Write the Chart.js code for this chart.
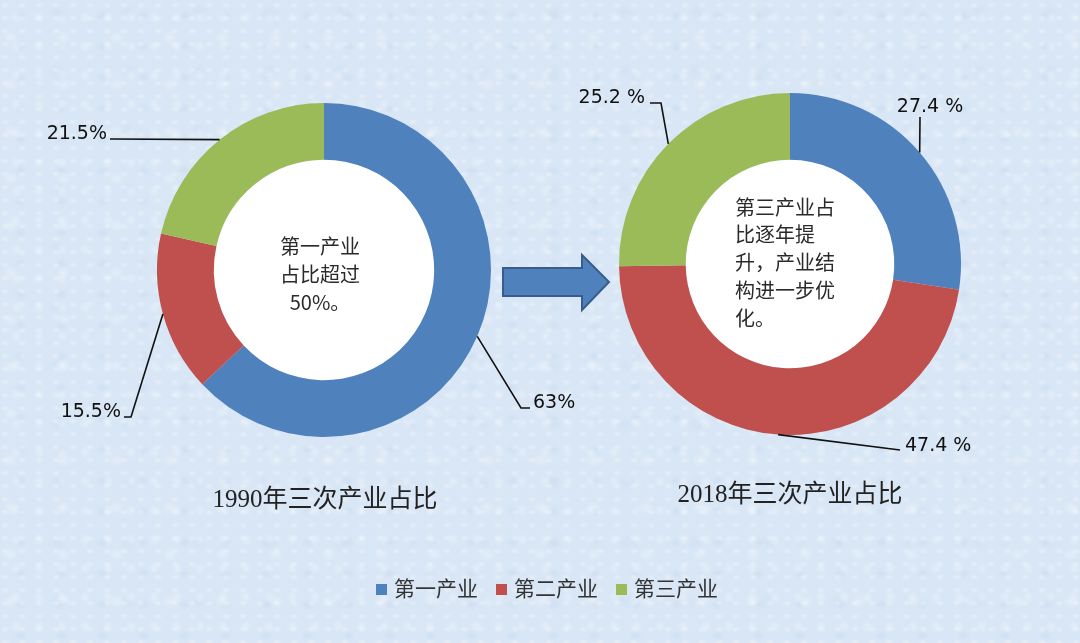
<!DOCTYPE html>
<html>
<head>
<meta charset="utf-8">
<script src="https://cdn.jsdelivr.net/npm/chart.js@4"></script>
<style>
  html, body { margin: 0; padding: 0; }
  body {
    width: 1080px;
    height: 643px;
    position: relative;
    overflow: hidden;
    background-color: #d8e6f5;
    background-image:
      radial-gradient(ellipse at 30% 40%, rgba(255,255,255,0.35) 0, rgba(255,255,255,0) 5px),
      radial-gradient(ellipse at 70% 60%, rgba(255,255,255,0.3) 0, rgba(255,255,255,0) 6px),
      radial-gradient(ellipse at 50% 50%, rgba(185,208,235,0.25) 0, rgba(185,208,235,0) 7px),
      radial-gradient(ellipse at 20% 80%, rgba(255,255,255,0.3) 0, rgba(255,255,255,0) 8px),
      radial-gradient(ellipse at 80% 20%, rgba(200,218,240,0.3) 0, rgba(200,218,240,0) 9px);
    background-size: 17px 13px, 23px 29px, 41px 31px, 53px 47px, 71px 59px;
  }
  canvas { position: absolute; left: 0; top: 0; }
  .title {
    position: absolute;
    font-family: "Liberation Serif", "Noto Sans CJK SC", serif;
    font-size: 25px;
    color: #222;
    white-space: nowrap;
    transform: translateX(-50%);
  }
  #legend {
    position: absolute;
    left: 0; width: 1080px;
    top: 572px;
    text-align: center;
    font-family: "Noto Sans CJK SC", sans-serif;
    font-size: 21px;
    color: #333;
    padding-left: 14px;
    box-sizing: border-box;
  }
  #legend span.item { margin: 0 9px; }
  #legend span.box {
    display: inline-block;
    width: 11px; height: 11px;
    margin-right: 7px;
    vertical-align: 1px;
  }
</style>
</head>
<body>
<canvas id="chart1990" width="1080" height="643"></canvas>
<canvas id="chart2018" width="1080" height="643"></canvas>
<div class="title" style="left:325px; top:478px;">1990年三次产业占比</div>
<div class="title" style="left:790px; top:473px;">2018年三次产业占比</div>
<div id="legend"></div>
<script>
// data
const categories = ["第一产业", "第二产业", "第三产业"];
const values1990 = [63, 15.5, 21.5];
const values2018 = [27.4, 47.4, 25.2];
const labels1990 = ["63%", "15.5%", "21.5%"];
const labels2018 = ["27.4 %", "47.4 %", "25.2 %"];
const note1990 = ["第一产业", "占比超过", "50%。"];
const note2018 = ["第三产业占", "比逐年提", "升，产业结", "构进一步优", "化。"];
const colors = ["#4f81bd", "#c0504d", "#9bbb59"];

// leader line layout, offsets from the doughnut centre
const leaders1990 = [
  { pts: [[197, 138], [206, 138]], text: [209, 138], align: "left" },
  { pts: [[-193, 147], [-200, 147]], text: [-203, 147], align: "right" },
  { pts: [[-214, -131]], text: [-217, -131], align: "right" },
];
const leaders2018 = [
  { pts: [[130, -147]], text: [140, -152], align: "center" },
  { pts: [[110, 186]], text: [115, 187], align: "left" },
  { pts: [[-129, -161], [-140, -161]], text: [-145, -161], align: "right" },
];

// white hole in the middle of the ring
const holePlugin = {
  id: "hole",
  beforeDatasetsDraw(chart) {
    const arc = chart.getDatasetMeta(0).data[0];
    const { x, y, innerRadius } = arc.getProps(["x", "y", "innerRadius"], true);
    const ctx = chart.ctx;
    ctx.save();
    ctx.fillStyle = "#ffffff";
    ctx.beginPath();
    ctx.arc(x, y, innerRadius, 0, Math.PI * 2);
    ctx.fill();
    ctx.restore();
  },
};

// leader lines + percentage labels, and the note in the middle
const leaderPlugin = {
  id: "leaders",
  afterDatasetsDraw(chart, args, opts) {
    const ctx = chart.ctx;
    const meta = chart.getDatasetMeta(0);
    ctx.save();
    meta.data.forEach((arc, i) => {
      const p = arc.getProps(["x", "y", "startAngle", "endAngle", "outerRadius"], true);
      const mid = (p.startAngle + p.endAngle) / 2;
      const lay = opts.layout[i];
      ctx.strokeStyle = "#111";
      ctx.lineWidth = 1.6;
      ctx.beginPath();
      ctx.moveTo(p.x + Math.cos(mid) * p.outerRadius, p.y + Math.sin(mid) * p.outerRadius);
      lay.pts.forEach((pt) => ctx.lineTo(p.x + pt[0], p.y + pt[1]));
      ctx.stroke();
      ctx.fillStyle = "#111";
      ctx.font = '19px "DejaVu Sans", sans-serif';
      ctx.textAlign = lay.align;
      ctx.textBaseline = "alphabetic";
      ctx.fillText(opts.labels[i], p.x + lay.text[0], p.y + lay.text[1]);
    });

    // note text
    const c = meta.data[0].getProps(["x", "y"], true);
    ctx.fillStyle = "#2a2a2a";
    ctx.font = '20px "Noto Sans CJK SC", sans-serif';
    ctx.textAlign = opts.noteAlign;
    ctx.textBaseline = "middle";
    opts.note.forEach((line, i) => {
      ctx.fillText(line, c.x + opts.noteX, c.y + opts.noteY + i * opts.noteGap);
    });
    ctx.restore();
  },
};

// block arrow between the two charts
const arrowPlugin = {
  id: "arrow",
  afterDraw(chart) {
    const ctx = chart.ctx;
    ctx.save();
    ctx.fillStyle = "#4f81bd";
    ctx.strokeStyle = "#385d8a";
    ctx.lineWidth = 2;
    ctx.beginPath();
    ctx.moveTo(503, 268);
    ctx.lineTo(582, 268);
    ctx.lineTo(582, 255);
    ctx.lineTo(609, 282);
    ctx.lineTo(582, 310);
    ctx.lineTo(582, 296);
    ctx.lineTo(503, 296);
    ctx.closePath();
    ctx.fill();
    ctx.stroke();
    ctx.restore();
  },
};

const makeChart = (id, values, cutout, padding, pluginOpts, extra) => {
  return new Chart(document.getElementById(id), {
    type: "doughnut",
    data: {
      labels: categories,
      datasets: [
        {
          data: values,
          backgroundColor: colors,
          borderWidth: 0,
        },
      ],
    },
    options: {
      responsive: false,
      animation: false,
      cutout: cutout,
      layout: { padding: padding },
      plugins: {
        legend: { display: false },
        tooltip: { enabled: false },
        leaders: pluginOpts,
      },
    },
    plugins: [holePlugin, leaderPlugin].concat(extra),
  });
};

makeChart(
  "chart1990",
  values1990,
  "66%",
  { left: 157, right: 589, top: 103, bottom: 206 },
  { layout: leaders1990, labels: labels1990, note: note1990, noteAlign: "center", noteX: -4, noteY: -24, noteGap: 28 },
  [arrowPlugin]
);

makeChart(
  "chart2018",
  values2018,
  "61%",
  { left: 619, right: 119, top: 93, bottom: 208 },
  { layout: leaders2018, labels: labels2018, note: note2018, noteAlign: "left", noteX: -55, noteY: -57, noteGap: 27.8 },
  []
);

// legend
const legend = document.getElementById("legend");
categories.forEach((name, i) => {
  const item = document.createElement("span");
  item.className = "item";
  const box = document.createElement("span");
  box.className = "box";
  box.style.background = colors[i];
  item.append(box, document.createTextNode(name));
  legend.append(item);
});
</script>
</body>
</html>
